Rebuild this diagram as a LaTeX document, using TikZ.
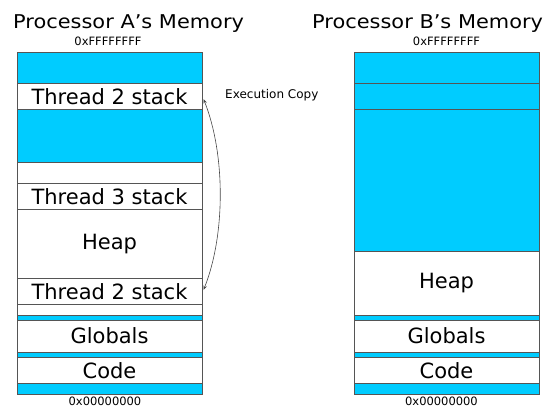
\documentclass[tikz,border=0pt]{standalone}
\usepackage{fontspec}
\setmainfont{DejaVu Sans}
\usetikzlibrary{arrows.meta,calc}
\definecolor{memblue}{RGB}{0,204,255}
\definecolor{edge}{RGB}{85,85,85}
\definecolor{arrowgray}{RGB}{70,70,70}
\begin{document}
\begin{tikzpicture}[x=1pt,y=-1pt,
  memcell/.style={draw=edge, line width=0.9pt, inner sep=0pt, outer sep=0pt,
    minimum width=185pt, fill=white, font=\fontsize{21}{25}\selectfont},
  bluecell/.style={memcell, fill=memblue},
  addr/.style={font=\fontsize{11.5}{13}\selectfont, inner sep=0pt},
  ttl/.style={font=\fontsize{19}{23}\selectfont, inner sep=0pt, anchor=base west},
  copyarrow/.style={draw=arrowgray, line width=0.6pt, {Stealth[length=4.5pt,width=3.5pt]}-{Stealth[length=4.5pt,width=3.5pt]}}
]
\useasboundingbox (0,0) rectangle (546,408);
% titles
\node[ttl] (titleA) at (13,28.3) {\scalebox{1.1}[1]{Processor A’s Memory}};
\node[ttl] (titleB) at (312,28.3) {\scalebox{1.1}[1]{Processor B’s Memory}};
% addresses
\node[addr, anchor=base] (topA) at (108,45.5) {0xFFFFFFFF};
\node[addr, anchor=base] (topB) at (446.5,45.5) {0xFFFFFFFF};
\node[addr, anchor=base] (botA) at (105,405.3) {0x00000000};
\node[addr, anchor=base] (botB) at (441.5,405.3) {0x00000000};
% Processor A memory
\node[bluecell, minimum height=31.3pt] (bA1) at (109.5,67.65) {};
\node[memcell, minimum height=26pt] (t2a) at (109.5,96.3) {Thread 2 stack};
\node[bluecell, minimum height=53pt] (bA2) at (109.5,135.8) {};
\node[memcell, minimum height=21pt] (eA1) at (109.5,172.8) {};
\node[memcell, minimum height=26pt] (t3) at (109.5,196.3) {Thread 3 stack};
\node[memcell, minimum height=69pt] (heapA) at (109.5,243.8) {Heap};
\node[memcell, minimum height=26pt] (t2b) at (109.5,291.3) {Thread 2 stack};
\node[memcell, minimum height=10.7pt] (eA2) at (109.5,309.65) {};
\node[bluecell, minimum height=5.3pt] (sA1) at (109.5,317.65) {};
\node[memcell, minimum height=31.7pt] (globA) at (109.5,336.15) {Globals};
\node[bluecell, minimum height=5.3pt] (sA2) at (109.5,354.65) {};
\node[memcell, minimum height=26pt] (codeA) at (109.5,370.3) {Code};
\node[bluecell, minimum height=10.7pt] (sA3) at (109.5,388.65) {};
% Processor B memory
\node[bluecell, minimum height=31.3pt] (bB1) at (446.5,67.65) {};
\node[bluecell, minimum height=26pt] (bB2) at (446.5,96.3) {};
\node[bluecell, minimum height=142.4pt] (bB3) at (446.5,180.5) {};
\node[memcell, minimum height=63.3pt] (heapB) at (446.5,283.35) {Heap};
\node[bluecell, minimum height=5.3pt] (sB1) at (446.5,317.65) {};
\node[memcell, minimum height=31.7pt] (globB) at (446.5,336.15) {Globals};
\node[bluecell, minimum height=5.3pt] (sB2) at (446.5,354.65) {};
\node[memcell, minimum height=26pt] (codeB) at (446.5,370.3) {Code};
\node[bluecell, minimum height=10.7pt] (sB3) at (446.5,388.65) {};
% execution copy arrow
\coordinate (cpTop) at ($(t2a.east)+(1.5,2.7)$);
\coordinate (cpBot) at ($(t2b.east)+(1.5,-1.3)$);
\draw[copyarrow] (cpTop) .. controls ($(cpTop)+(22,55)$) and ($(cpBot)+(22,-55)$) .. (cpBot);
\node[font=\fontsize{12}{14}\selectfont, inner sep=0pt, anchor=base west] (copylbl) at (225,98.3) {Execution Copy};
\end{tikzpicture}
\end{document}
